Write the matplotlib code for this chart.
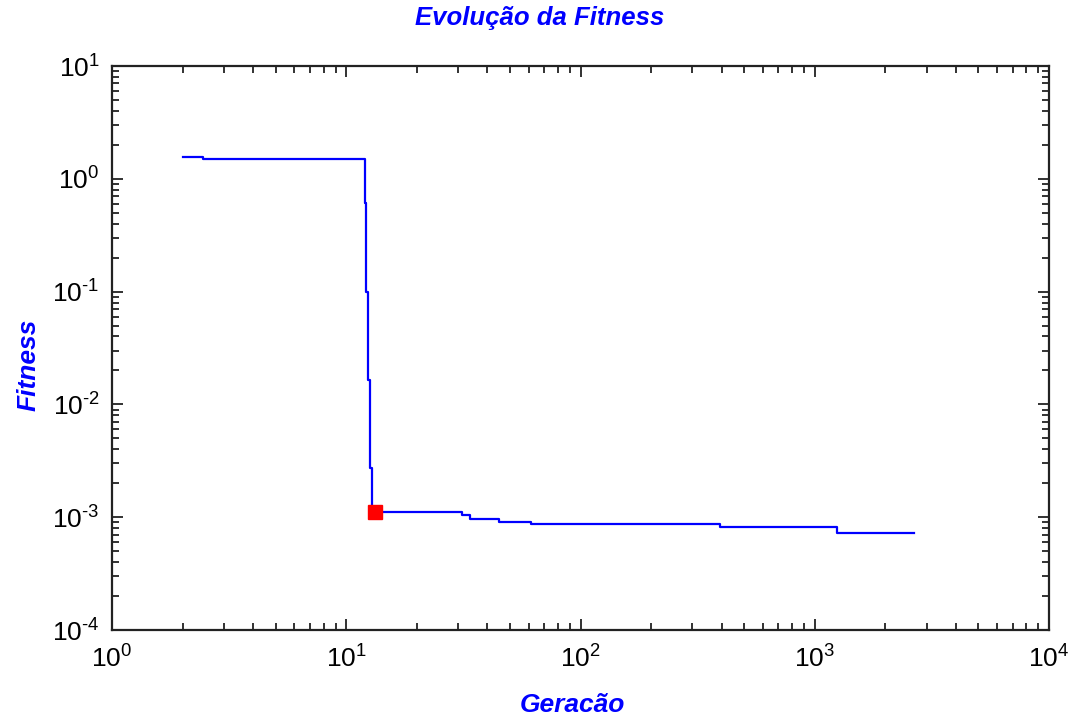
import math
import matplotlib
matplotlib.use("Agg")
import matplotlib.pyplot as plt
from matplotlib.ticker import LogLocator, FuncFormatter, NullFormatter

plt.rcParams['font.family'] = ['Liberation Sans', 'DejaVu Sans']
plt.rcParams['mathtext.fontset'] = 'custom'
plt.rcParams['mathtext.rm'] = 'Liberation Sans'

# Data (step breakpoints of best fitness per generation)
generation = [2, 2.45, 11.98, 12.13, 12.41, 12.62, 12.87, 31.1, 33.7, 45.0, 61.4, 394, 1248, 2661]
fitness = [1.57, 1.50, 0.61, 0.099, 0.0164, 0.00273, 0.00112, 0.001046, 0.000958,
           0.000912, 0.000862, 0.000814, 0.00072, 0.00072]
marker_gen = [13.3]
marker_fit = [0.00111]

title = "Evolução da Fitness"
xlabel = "Geracão"
ylabel = "Fitness"

fig = plt.figure(figsize=(10.73, 7.2), dpi=100)
ax = fig.add_axes([112/1073, 1-630/720, (1049-112)/1073, (630-66)/720])

ax.plot(generation, fitness, drawstyle='steps-post', color='#0000ff', lw=1.6)
ax.plot(marker_gen, marker_fit, 's', color='#ff0000', ms=10, mec='#ff0000')

ax.set_xscale('log')
ax.set_yscale('log')
ax.set_xlim(1, 1e4)
ax.set_ylim(1e-4, 10)


def _fmt(v, p):
    e = int(round(math.log10(v)))
    if e < 0:
        return r'$\mathregular{10^{\text{-}%d}}$' % (-e)
    return r'$\mathregular{10^{%d}}$' % e


fmt = FuncFormatter(_fmt)
for axis in (ax.xaxis, ax.yaxis):
    axis.set_major_locator(LogLocator(base=10, numticks=20))
    axis.set_minor_locator(LogLocator(base=10, subs=range(2, 10), numticks=100))
    axis.set_major_formatter(fmt)
    axis.set_minor_formatter(NullFormatter())

ax.tick_params(which='both', direction='in', top=True, right=True, colors='#222222',
               labelcolor='black', labelsize=19)
ax.tick_params(which='major', length=8, width=1.3)
ax.tick_params(which='minor', length=5, width=1.3)
ax.tick_params(axis='x', which='major', pad=11)
ax.tick_params(axis='y', which='major', pad=9)
for s in ax.spines.values():
    s.set_linewidth(1.6)
    s.set_color('#222222')

fig.text(540/1073, 1-18/720, title, ha='center', va='center', color='#0000ff',
         fontsize=18.5, fontweight='bold', fontstyle='italic')
fig.text(572/1073, 1-705/720, xlabel, ha='center', va='center', color='#0000ff',
         fontsize=19, fontweight='bold', fontstyle='italic')
fig.text(29/1073, 1-365/720, ylabel, ha='center', va='center', color='#0000ff',
         fontsize=19, fontweight='bold', fontstyle='italic', rotation=90)

fig.savefig('out.png', dpi=100)
